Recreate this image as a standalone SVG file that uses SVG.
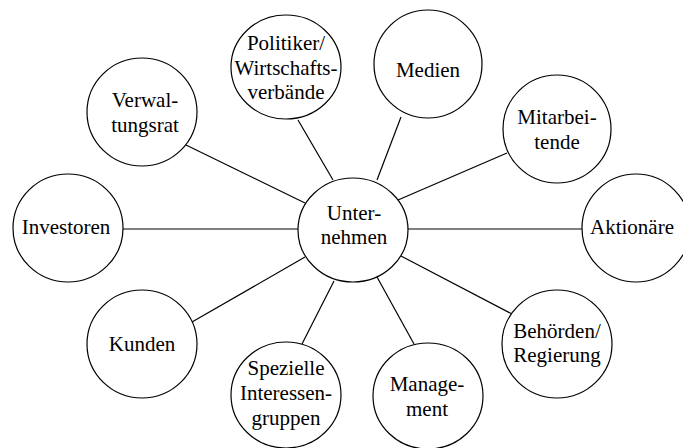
<svg xmlns="http://www.w3.org/2000/svg" width="683" height="448" viewBox="0 0 683 448">
<style>
.n ellipse{fill:#fff;stroke:#000;stroke-width:1.2}
.n text{font-size:21px;fill:#000;text-anchor:middle}
#edges line{stroke:#000;stroke-width:1.2}
</style>
<rect width="683" height="448" fill="#fff"/>
<g id="edges">
<line x1="186" y1="145" x2="305" y2="203"/>
<line x1="298" y1="120" x2="333" y2="180"/>
<line x1="401" y1="117" x2="377" y2="180"/>
<line x1="507" y1="153" x2="398" y2="200"/>
<line x1="122" y1="229" x2="298" y2="229"/>
<line x1="407" y1="229" x2="584" y2="229"/>
<line x1="192" y1="322" x2="305" y2="257"/>
<line x1="302" y1="344" x2="334" y2="281"/>
<line x1="377" y1="277" x2="414" y2="344"/>
<line x1="401" y1="256" x2="512" y2="314"/>
</g>
<g font-family="'Liberation Serif', 'Times New Roman', serif">
<g id="unternehmen" class="n"><ellipse cx="353" cy="230" rx="55" ry="52"/><text x="354" y="220" font-family="Liberation Serif">Unter-</text><text x="354" y="244" font-family="Liberation Serif">nehmen</text></g>
<g id="verwaltungsrat" class="n"><ellipse cx="142" cy="112" rx="55" ry="54"/><text x="145" y="107" font-family="Liberation Serif">Verwal-</text><text x="145" y="132" font-family="Liberation Serif">tungsrat</text></g>
<g id="politiker" class="n"><ellipse cx="286" cy="67" rx="55" ry="52"/><text x="286" y="50" font-family="Liberation Serif">Politiker/</text><text x="286" y="75" font-family="Liberation Serif">Wirtschafts-</text><text x="286" y="99" font-family="Liberation Serif">verbände</text></g>
<g id="medien" class="n"><ellipse cx="428" cy="64" rx="54" ry="54"/><text x="428" y="77" font-family="Liberation Serif">Medien</text></g>
<g id="mitarbeitende" class="n"><ellipse cx="557" cy="129" rx="54" ry="54"/><text x="557" y="124" font-family="Liberation Serif">Mitarbei-</text><text x="557" y="149" font-family="Liberation Serif">tende</text></g>
<g id="aktionaere" class="n"><ellipse cx="636" cy="228" rx="54" ry="54"/><text x="632" y="234" font-family="Liberation Serif">Aktionäre</text></g>
<g id="investoren" class="n"><ellipse cx="68" cy="228" rx="55" ry="54"/><text x="66" y="234" font-family="Liberation Serif">Investoren</text></g>
<g id="kunden" class="n"><ellipse cx="142" cy="344" rx="55" ry="54"/><text x="142" y="351" font-family="Liberation Serif">Kunden</text></g>
<g id="spezielle" class="n"><ellipse cx="286" cy="395" rx="55" ry="53"/><text x="286" y="375" font-family="Liberation Serif">Spezielle</text><text x="286" y="400" font-family="Liberation Serif">Interessen-</text><text x="286" y="425" font-family="Liberation Serif">gruppen</text></g>
<g id="management" class="n"><ellipse cx="428" cy="396" rx="55" ry="53"/><text x="427" y="391" font-family="Liberation Serif">Manage-</text><text x="427" y="416" font-family="Liberation Serif">ment</text></g>
<g id="behoerden" class="n"><ellipse cx="557" cy="344" rx="55" ry="54"/><text x="557" y="338" font-family="Liberation Serif">Behörden/</text><text x="557" y="362" font-family="Liberation Serif">Regierung</text></g>
</g>
</svg>
